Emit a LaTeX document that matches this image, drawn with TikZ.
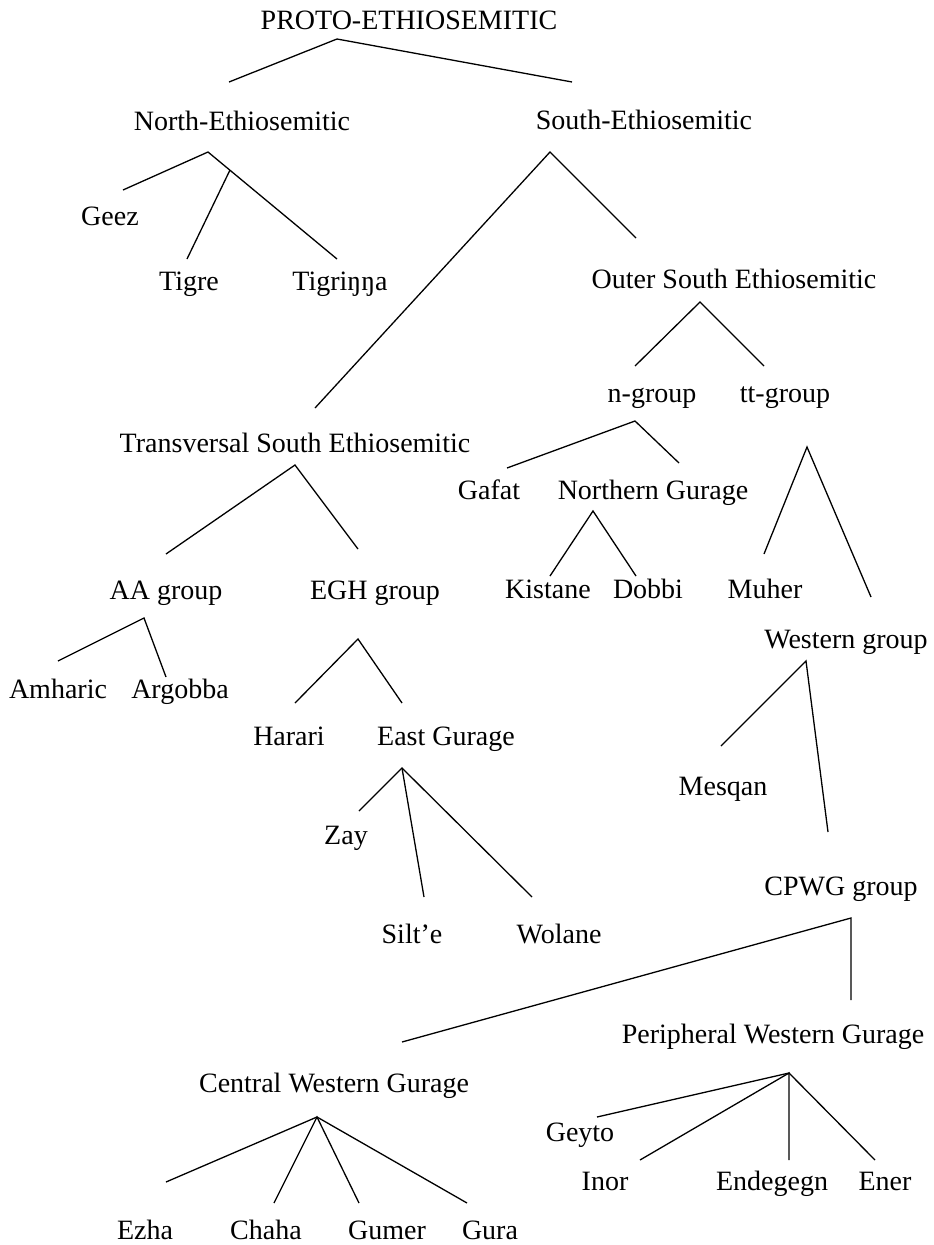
\documentclass[tikz,border=0pt]{standalone}
\usepackage{fontspec}
\setmainfont{Liberation Serif}
\begin{document}
\begin{tikzpicture}[x=1pt,y=1pt]
\tikzstyle{every node}+=[inner sep=0pt, anchor=base, font=\fontsize{28}{34}\selectfont]
\tikzstyle{branch}=[black, line width=1.3pt]
\useasboundingbox (0,0) rectangle (934,-1245);
\draw (409,-29) node (proto) {PROTO-ETHIOSEMITIC};
\draw (242,-130) node (north) {North-Ethiosemitic};
\draw (644,-129) node (south) {South-Ethiosemitic};
\draw (110,-225) node (geez) {Geez};
\draw (189,-290) node (tigre) {Tigre};
\draw (340,-290) node (tigrinya) {Tigriŋŋa};
\draw (734,-288) node (outer) {Outer South Ethiosemitic};
\draw (652,-402) node (ngroup) {n-group};
\draw (785,-402) node (ttgroup) {tt-group};
\draw (295,-452) node (transv) {Transversal South Ethiosemitic};
\draw (489,-499) node (gafat) {Gafat};
\draw (653,-499) node (northgur) {Northern Gurage};
\draw (166,-599) node (aa) {AA group};
\draw (375,-599) node (egh) {EGH group};
\draw (548,-598) node (kistane) {Kistane};
\draw (648,-598) node (dobbi) {Dobbi};
\draw (765,-598) node (muher) {Muher};
\draw (846,-648) node (western) {Western group};
\draw (58,-698) node (amharic) {Amharic};
\draw (180,-698) node (argobba) {Argobba};
\draw (289,-745) node (harari) {Harari};
\draw (446,-745) node (eastgur) {East Gurage};
\draw (723,-795) node (mesqan) {Mesqan};
\draw (346,-844) node (zay) {Zay};
\draw (841,-895) node (cpwg) {CPWG group};
\draw (412,-943) node (silte) {Silt’e};
\draw (559,-943) node (wolane) {Wolane};
\draw (773,-1043) node (periph) {Peripheral Western Gurage};
\draw (334,-1092) node (central) {Central Western Gurage};
\draw (580,-1141) node (geyto) {Geyto};
\draw (605,-1190) node (inor) {Inor};
\draw (772,-1190) node (endegegn) {Endegegn};
\draw (885,-1190) node (ener) {Ener};
\draw (145,-1239) node (ezha) {Ezha};
\draw (266,-1239) node (chaha) {Chaha};
\draw (387,-1239) node (gumer) {Gumer};
\draw (490,-1239) node (gura) {Gura};
\coordinate (protoA) at (337,-39);
\coordinate (protoL) at (229,-82);
\coordinate (protoR) at (572,-82);
\draw [branch] (protoL) -- (protoA) -- (protoR);
\coordinate (northA) at (208,-152);
\coordinate (northL) at (123,-190);
\coordinate (northR) at (337,-259);
\coordinate (northM) at (230,-170);
\coordinate (northMe) at (187,-259);
\draw [branch] (northL) -- (northA) -- (northR);
\draw [branch] (northM) -- (northMe);
\coordinate (southA) at (550,-152);
\coordinate (southL) at (315,-408);
\coordinate (southR) at (636,-238);
\draw [branch] (southL) -- (southA) -- (southR);
\coordinate (outerA) at (700,-302);
\coordinate (outerL) at (635,-366);
\coordinate (outerR) at (764,-366);
\draw [branch] (outerL) -- (outerA) -- (outerR);
\coordinate (ngroupA) at (635,-421);
\coordinate (ngroupL) at (507,-468);
\coordinate (ngroupR) at (679,-463);
\draw [branch] (ngroupL) -- (ngroupA) -- (ngroupR);
\coordinate (northgurA) at (593,-511);
\coordinate (northgurL) at (550,-576);
\coordinate (northgurR) at (636,-576);
\draw [branch] (northgurL) -- (northgurA) -- (northgurR);
\coordinate (ttA) at (807,-447);
\coordinate (ttL) at (764,-554);
\coordinate (ttR) at (871,-597);
\draw [branch] (ttL) -- (ttA) -- (ttR);
\coordinate (transvA) at (295,-465);
\coordinate (transvL) at (166,-554);
\coordinate (transvR) at (358,-549);
\draw [branch] (transvL) -- (transvA) -- (transvR);
\coordinate (aaA) at (144,-618);
\coordinate (aaL) at (58,-661);
\coordinate (aaR) at (166,-677);
\draw [branch] (aaL) -- (aaA) -- (aaR);
\coordinate (eghA) at (358,-639);
\coordinate (eghL) at (295,-703);
\coordinate (eghR) at (402,-703);
\draw [branch] (eghL) -- (eghA) -- (eghR);
\coordinate (eastA) at (402,-768);
\coordinate (eastL) at (359,-811);
\coordinate (eastM) at (424,-897);
\coordinate (eastR) at (532,-897);
\draw [branch] (eastL) -- (eastA) -- (eastR);
\draw [branch] (eastA) -- (eastM);
\coordinate (westA) at (806,-661);
\coordinate (westL) at (721,-746);
\coordinate (westR) at (828,-832);
\draw [branch] (westL) -- (westA) -- (westR);
\coordinate (cpwgA) at (851,-918);
\coordinate (cpwgL) at (402,-1042);
\coordinate (cpwgR) at (851,-1000);
\draw [branch] (cpwgL) -- (cpwgA) -- (cpwgR);
\coordinate (centralA) at (317,-1117);
\coordinate (centralE) at (166,-1182);
\coordinate (centralC) at (274,-1203);
\coordinate (centralG) at (359,-1203);
\coordinate (centralU) at (467,-1203);
\draw [branch] (centralE) -- (centralA) -- (centralU);
\draw [branch] (centralC) -- (centralA) -- (centralG);
\coordinate (periphA) at (789,-1073);
\coordinate (periphG) at (597,-1117);
\coordinate (periphI) at (640,-1160);
\coordinate (periphD) at (789,-1160);
\coordinate (periphE) at (875,-1160);
\draw [branch] (periphG) -- (periphA) -- (periphE);
\draw [branch] (periphI) -- (periphA) -- (periphD);
\end{tikzpicture}
\end{document}
